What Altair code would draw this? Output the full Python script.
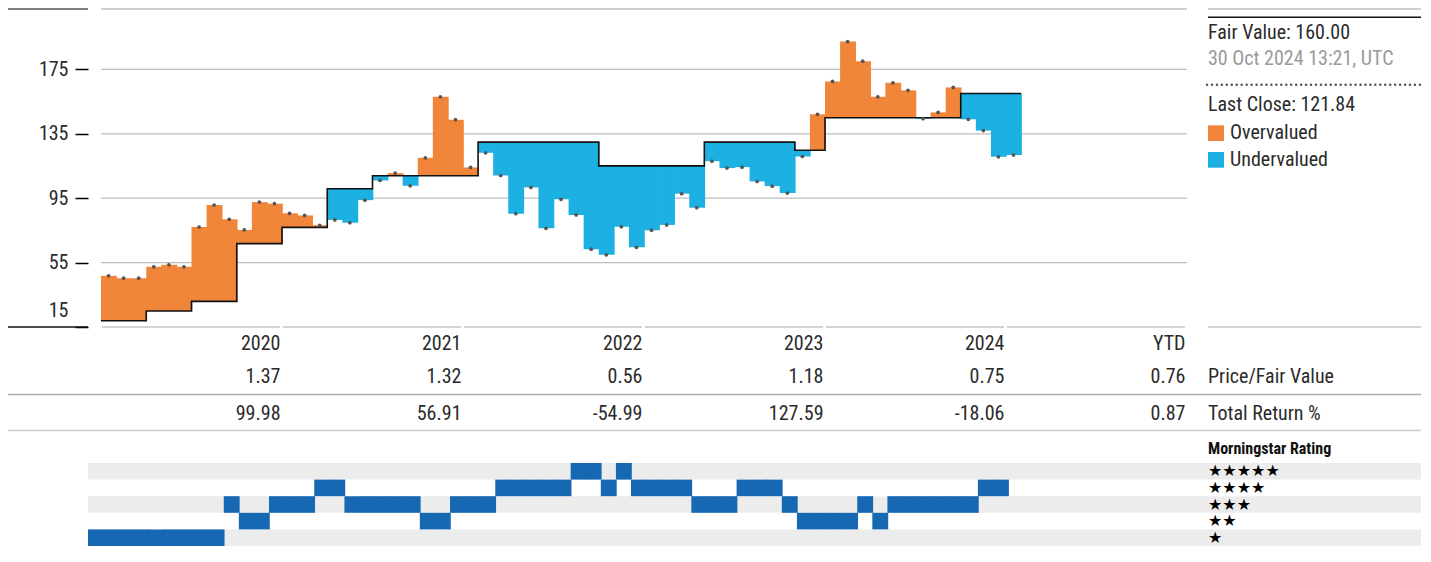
import altair as alt
import pandas as pd

FONT = "Liberation Sans Narrow, Roboto Condensed, DejaVu Sans Condensed, Arial Narrow, sans-serif"

# ---------------- data ----------------
price = [46.8, 45.3, 45.3, 52.4, 53.6, 52.4, 77.1, 90.7, 81.9, 75.3, 92.6, 91.6,
         85.6, 84.3, 78.2, 81.5, 79.8, 93.8, 106.0, 110.6, 102.7, 120.1, 158.0, 143.8,
         114.1, 123.2, 109.1, 85.4, 101.7, 76.3, 94.3, 84.6, 63.3, 59.8, 77.3, 64.5,
         75.1, 78.4, 97.8, 89.1, 118.0, 113.7, 114.3, 105.4, 102.5, 98.2, 120.9, 147.1,
         167.5, 192.3, 180.1, 158.0, 166.7, 162.0, 144.4, 148.3, 163.8, 144.0, 137.0, 120.7,
         121.84]
fair_value = [18.9, 18.9, 18.9, 24.9, 24.9, 24.9, 30.9, 30.9, 30.9, 66.8, 66.8, 66.8,
              76.9, 76.9, 76.9, 100.9, 100.9, 100.9, 108.9, 108.9, 108.9, 108.9, 108.9, 108.9,
              108.9, 129.8, 129.8, 129.8, 129.8, 129.8, 129.8, 129.8, 129.8, 115.1, 115.1, 115.1,
              115.1, 115.1, 115.1, 115.1, 129.8, 129.8, 129.8, 129.8, 129.8, 129.8, 124.8, 124.8,
              145.0, 145.0, 145.0, 145.0, 145.0, 145.0, 145.0, 145.0, 145.0, 160.0, 160.0, 160.0,
              160.0]
ratings = [1, 1, 1, 1, 1, 1, 1, 1, 1, 3, 2, 2,
           3, 3, 3, 4, 4, 3, 3, 3, 3, 3, 2, 2,
           3, 3, 3, 4, 4, 4, 4, 4, 5, 5, 4, 5,
           4, 4, 4, 4, 3, 3, 3, 4, 4, 4, 3, 2,
           2, 2, 2, 3, 2, 3, 3, 3, 3, 3, 3, 4,
           4]
years = ["2020", "2021", "2022", "2023", "2024", "YTD"]
year_end = [12, 24, 36, 48, 60, 72]
price_to_fv = [1.37, 1.32, 0.56, 1.18, 0.75, 0.76]
total_return = [99.98, 56.91, -54.99, 127.59, -18.06, 0.87]
y_ticks = [15, 55, 95, 135, 175]
grid_vals = [55, 95, 135, 175]
star_levels = [5, 4, 3, 2, 1]
star_text = ["★★★★★", "★★★★", "★★★", "★★", "★"]
band_levels = [5, 3, 1]

ORANGE = "#F1863B"
BLUE = "#1DB1E3"
RATING_BLUE = "#1668B3"
BAND = "#ECECEC"
TXT = "#2b2b2b"

W = 1086
H = 541

n = len(price)
months = list(range(n))
df = pd.DataFrame({
    "m": months,
    "m1": [m + 1 for m in months],
    "mc": [m + 0.5 for m in months],
    "price": price,
    "fv": fair_value,
    "status": ["Overvalued" if p >= f else "Undervalued" for p, f in zip(price, fair_value)],
})
fv_line = pd.DataFrame({"m": months + [n], "fv": fair_value + [fair_value[-1]]})
df_grid = pd.DataFrame({"v": grid_vals})
df_seg = pd.DataFrame({"s": [e - 12 for e in year_end], "e": year_end, "v": [15] * len(year_end)})
df_base = pd.DataFrame({"v": [15]})
df_tab = pd.DataFrame({
    "e": year_end,
    "year": years,
    "pfv": [f"{v:.2f}" for v in price_to_fv],
    "tr": [f"{v:.2f}" for v in total_return],
})
df_rating = pd.DataFrame({
    "m": months, "m1": [m + 1 for m in months],
    "lo": [r - 0.5 for r in ratings], "hi": [r + 0.5 for r in ratings],
})
df_band = pd.DataFrame({"lo": [b - 0.5 for b in band_levels], "hi": [b + 0.5 for b in band_levels]})
df_star = pd.DataFrame({"r": star_levels, "s": star_text})

xs = alt.Scale(domain=[0, 72], nice=False, zero=False)
ys = alt.Scale(domain=[15, 215], range=[319, -3], nice=False, zero=False)
rs = alt.Scale(domain=[0.5, 5.5], range=[538, 455], nice=False, zero=False)
status_scale = alt.Scale(domain=["Overvalued", "Undervalued"], range=[ORANGE, BLUE])

X = lambda f: alt.X(f, scale=xs, axis=None)
Yp = lambda f: alt.Y(f, scale=ys, axis=None)
Yr = lambda f: alt.Y(f, scale=rs, axis=None)


def text_at(txt, x, y, size=20, color=TXT, weight="normal", font=FONT):
    return alt.Chart(pd.DataFrame({"t": [txt]})).mark_text(
        align="left", baseline="middle", font=font, fontSize=size, color=color, fontWeight=weight
    ).encode(x=alt.value(x), y=alt.value(y), text="t:N")


def hline(x1, x2, y, color, width=1.5, dash=None, cap="butt"):
    kw = dict(color=color, strokeWidth=width, strokeCap=cap)
    if dash:
        kw["strokeDash"] = dash
    return alt.Chart(pd.DataFrame({"a": [0]})).mark_rule(**kw).encode(
        x=alt.value(x1), x2=alt.value(x2), y=alt.value(y))


layers = []

# frame lines at top
layers.append(hline(-93, -13, 1, "#808080", 2))
layers.append(hline(0, W, 1, "#cfcfcf", 2))
layers.append(hline(1107, 1320, 1, "#cfcfcf", 2))

# grid
layers.append(alt.Chart(df_grid).mark_rule(color="#bdbdbd", strokeWidth=1.3).encode(
    y=Yp("v:Q"), x=alt.value(0), x2=alt.value(W)))
layers.append(alt.Chart(df_seg).mark_rule(color="#c4c4c4", strokeWidth=1.5, xOffset=1, x2Offset=-2).encode(
    x=X("s:Q"), x2="e:Q", y=Yp("v:Q")))
layers.append(alt.Chart(df_base).mark_rule(color="#111", strokeWidth=1.5).encode(
    y=Yp("v:Q"), x=alt.value(-93), x2=alt.value(-13)))
layers.append(alt.Chart(df_base).mark_rule(color="#c4c4c4", strokeWidth=1.5).encode(
    y=Yp("v:Q"), x=alt.value(1107), x2=alt.value(1320)))

# valuation bars (slightly overlapping to avoid seams)
layers.append(alt.Chart(df).mark_rect(x2Offset=0.8).encode(
    x=X("m:Q"), x2="m1:Q",
    y=alt.Y("fv:Q", scale=ys, axis=alt.Axis(
        values=y_ticks, grid=False, domain=False, ticks=True, tickColor="#000",
        tickSize=13, tickWidth=1.5, offset=13, labelPadding=7, labelFont=FONT,
        labelFontSize=20, labelColor=TXT, labelFlush=True, labelFlushOffset=-7, title=None)),
    y2="price:Q",
    color=alt.Color("status:N", scale=status_scale, legend=None),
))
# fair value step line
layers.append(alt.Chart(fv_line).mark_line(interpolate="step-after", color="#111", strokeWidth=1.6).encode(
    x=X("m:Q"), y=Yp("fv:Q")))
# price dots
layers.append(alt.Chart(df).mark_circle(size=14, color="#555", opacity=1).encode(
    x=X("mc:Q"), y=Yp("price:Q")))

# legend panel
layers.append(hline(1107, 1320, 9.3, "#111", 1.5))
layers.append(text_at("Fair Value: 160.00", 1107, 24.7))
layers.append(text_at("30 Oct 2024 13:21, UTC", 1107, 50.7, color="#9a9a9a"))
layers.append(hline(1106, 1320, 76.7, "#555", 2.4, dash=[0.1, 4.85], cap="round"))
layers.append(text_at("Last Close: 121.84", 1107, 96.7))
layers.append(alt.Chart(pd.DataFrame({"a": [0]})).mark_rect(color=ORANGE).encode(
    x=alt.value(1107), x2=alt.value(1123), y=alt.value(117.3), y2=alt.value(133)))
layers.append(alt.Chart(pd.DataFrame({"a": [0]})).mark_rect(color=BLUE).encode(
    x=alt.value(1107), x2=alt.value(1123), y=alt.value(144), y2=alt.value(159.7)))
layers.append(text_at("Overvalued", 1129, 125.2))
layers.append(text_at("Undervalued", 1129, 152))

# table
for col, yy in [("year", 336), ("pfv", 369), ("tr", 405.5)]:
    layers.append(alt.Chart(df_tab).mark_text(
        align="right", baseline="middle", dx=-1.5, font=FONT, fontSize=20, color=TXT).encode(
        x=X("e:Q"), y=alt.value(yy), text=f"{col}:N"))
layers.append(text_at("Price/Fair Value", 1107, 369))
layers.append(text_at("Total Return %", 1107, 405.5))
layers.append(hline(-93, 1320, 386.5, "#ababab", 1.5))
layers.append(hline(-93, 1320, 422.5, "#cccccc", 1.5))

# rating strip
layers.append(text_at("Morningstar Rating", 1107, 441, size=16, color="#111", weight="bold"))
layers.append(alt.Chart(df_band).mark_rect(color=BAND).encode(
    x=alt.value(-13), x2=alt.value(1320), y=Yr("lo:Q"), y2="hi:Q"))
layers.append(alt.Chart(df_rating).mark_rect(
    color=RATING_BLUE, xOffset=-13, x2Offset=-12.2).encode(
    x=X("m:Q"), x2="m1:Q", y=Yr("lo:Q"), y2="hi:Q"))
layers.append(alt.Chart(df_star).mark_text(
    align="left", baseline="middle", font="DejaVu Sans", fontSize=16, color="#000").encode(
    x=alt.value(1107), y=Yr("r:Q"), text="s:N"))

chart = alt.layer(*layers).resolve_scale(y="independent").properties(
    width=W, height=H,
    autosize=alt.AutoSizeParams(type="none"),
    padding={"left": 93, "top": 0, "right": 236, "bottom": 4},
).configure_view(stroke=None)

chart.save("out.html", embed_options={"renderer": "svg", "actions": False})
